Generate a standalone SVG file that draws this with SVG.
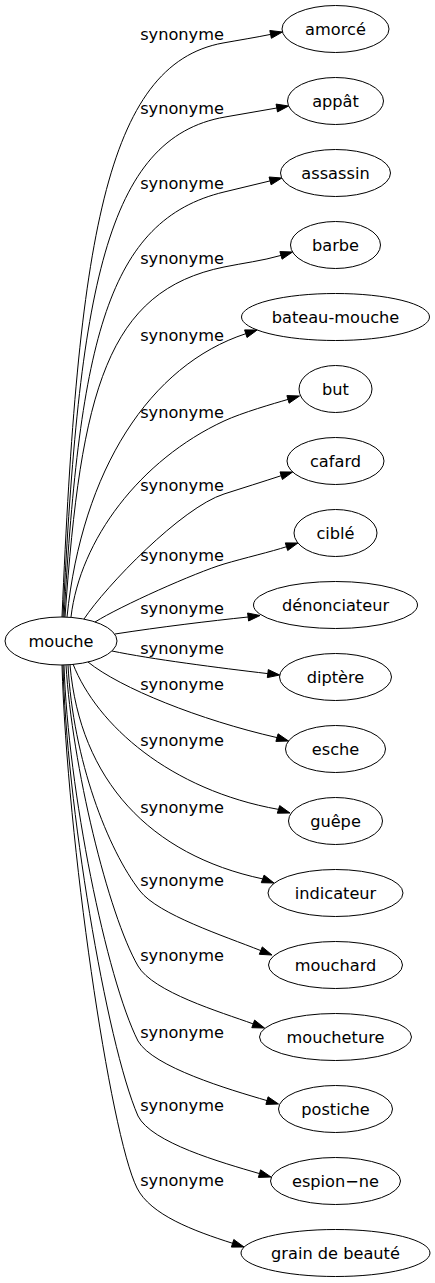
<svg xmlns="http://www.w3.org/2000/svg" width="435" height="1283" viewBox="0 0 435 1283">
<style>
.n ellipse{fill:none;stroke:#000;stroke-width:1}
text{font-family:"DejaVu Sans",sans-serif;font-size:16.2px;fill:#000;text-anchor:middle}
#edges path{fill:none;stroke:#000;stroke-width:1}
#edges polygon{fill:#000;stroke:#000;stroke-width:1}
</style>
<rect width="435" height="1283" fill="#fff"/>
<g id="edges">
<path d="M62,617 C78,244 104.9,64.4 223,43 C238.6,40.2 255.9,37.4 270.6,34.4"/>
<polygon points="282.4,32 271.4,38.3 269.8,30.5"/>
<text x="182" y="40">synonyme</text>
<path d="M63,617 C79,292 105.3,137.8 225,117 C242.2,114 259.6,111 276.8,108"/>
<polygon points="288.6,106 277.5,111.9 276.1,104.1"/>
<text x="182" y="114">synonyme</text>
<path d="M64,617 C80,341 107.4,220.1 224,192 C239.4,188.3 254.8,184.7 270.1,180.9"/>
<polygon points="281.8,178 271.1,184.8 269.1,177"/>
<text x="182" y="189">synonyme</text>
<path d="M65,617 C80.9,389.5 107.4,290.8 224,267 C243,263.1 262.4,260.8 281,255.4"/>
<polygon points="292.5,252 282.1,259.2 279.9,251.6"/>
<text x="182" y="264">synonyme</text>
<path d="M67,617 C82,470 150,365 245.8,333.7"/>
<polygon points="257.2,330 247,337.5 244.6,329.9"/>
<text x="182" y="341">synonyme</text>
<path d="M71,617 C80,540 140,460 224,421 C242.1,412.6 273.6,403.6 288,399.4"/>
<polygon points="299.5,396 289.1,403.2 286.9,395.6"/>
<text x="182" y="418">synonyme</text>
<path d="M84,619 C106,586 181.2,507.7 224,494 C242.1,488.2 263.1,481.6 281.2,475.7"/>
<polygon points="292.6,472 282.4,479.5 280,471.9"/>
<text x="182" y="491">synonyme</text>
<path d="M95,622 C120.5,606 195.3,572.6 224,564 C243.2,558.3 272.3,551.4 286.5,546.7"/>
<polygon points="297.9,543 287.7,550.5 285.3,542.9"/>
<text x="182" y="561">synonyme</text>
<path d="M115,634 C160,627 210,621 248.1,617"/>
<polygon points="260,615.5 248.6,621 247.6,613"/>
<text x="182" y="614">synonyme</text>
<path d="M112,651 C150,659 220,668 267.8,673.6"/>
<polygon points="279.7,675 267.3,677.6 268.3,669.6"/>
<text x="182" y="654">synonyme</text>
<path d="M88,662 C120,688 200,720 277,737.6"/>
<polygon points="288.5,741 275.9,741.4 278.1,733.8"/>
<text x="182" y="690">synonyme</text>
<path d="M73,664 C97,725 170,790 278.5,809.4"/>
<polygon points="290,813 277.3,813.2 279.7,805.6"/>
<text x="182" y="746">synonyme</text>
<path d="M70,665 C80,780 150,855 262.7,878.9"/>
<polygon points="274,883 261.3,882.7 264.1,875.1"/>
<text x="182" y="813">synonyme</text>
<path d="M68,665 C73,760 108,850 140,891 C158.5,914.6 223.6,935.8 260.8,950.6"/>
<polygon points="272,955 259.3,954.3 262.3,946.9"/>
<text x="182" y="886">synonyme</text>
<path d="M66,665 C72,765 108,913.8 138,966 C153,992 220.3,1012 253.2,1023.9"/>
<polygon points="264.5,1028 251.8,1027.7 254.6,1020.1"/>
<text x="182" y="961">synonyme</text>
<path d="M64,665 C68,790 106.5,978.7 138,1041 C153,1067 228.6,1089.4 267,1100.6"/>
<polygon points="278.5,1104 265.9,1104.4 268.1,1096.8"/>
<text x="182" y="1038">synonyme</text>
<path d="M63,665 C66,800 106,1042.4 138,1116 C151.5,1142.7 221.1,1162.4 259.5,1173.6"/>
<polygon points="271,1177 258.4,1177.4 260.6,1169.8"/>
<text x="182" y="1111">synonyme</text>
<path d="M62,665 C67,839 110,1134 137,1188 C150.4,1214.8 193.6,1230.9 232.6,1243.3"/>
<polygon points="244,1247 231.4,1247.1 233.8,1239.5"/>
<text x="182" y="1186">synonyme</text>
</g>
<g id="mouche" class="n"><ellipse cx="61" cy="641" rx="56" ry="24"/><text x="61" y="647">mouche</text></g>
<g id="amorce" class="n"><ellipse cx="335.5" cy="29" rx="53.5" ry="23.5"/><text x="335.5" y="35">amorcé</text></g>
<g id="appat" class="n"><ellipse cx="335.5" cy="101" rx="48" ry="23.5"/><text x="335.5" y="107">appât</text></g>
<g id="assassin" class="n"><ellipse cx="335.5" cy="173" rx="55" ry="23.5"/><text x="335.5" y="179">assassin</text></g>
<g id="barbe" class="n"><ellipse cx="335.5" cy="245" rx="45" ry="23.5"/><text x="335.5" y="251">barbe</text></g>
<g id="bateau-mouche" class="n"><ellipse cx="335.5" cy="317" rx="94" ry="23.5"/><text x="335.5" y="323">bateau-mouche</text></g>
<g id="but" class="n"><ellipse cx="335.5" cy="389" rx="36.5" ry="23.5"/><text x="335.5" y="395">but</text></g>
<g id="cafard" class="n"><ellipse cx="335.5" cy="461" rx="48.5" ry="23.5"/><text x="335.5" y="467">cafard</text></g>
<g id="cible" class="n"><ellipse cx="335.5" cy="533" rx="41.5" ry="23.5"/><text x="335.5" y="539">ciblé</text></g>
<g id="denonciateur" class="n"><ellipse cx="335.5" cy="605" rx="82" ry="23.5"/><text x="335.5" y="611">dénonciateur</text></g>
<g id="diptere" class="n"><ellipse cx="335.5" cy="677" rx="56" ry="23.5"/><text x="335.5" y="683">diptère</text></g>
<g id="esche" class="n"><ellipse cx="335.5" cy="749" rx="50" ry="23.5"/><text x="335.5" y="755">esche</text></g>
<g id="guepe" class="n"><ellipse cx="335.5" cy="821" rx="47" ry="23.5"/><text x="335.5" y="827">guêpe</text></g>
<g id="indicateur" class="n"><ellipse cx="335.5" cy="893" rx="67.5" ry="23.5"/><text x="335.5" y="899">indicateur</text></g>
<g id="mouchard" class="n"><ellipse cx="335.5" cy="965" rx="67" ry="23.5"/><text x="335.5" y="971">mouchard</text></g>
<g id="moucheture" class="n"><ellipse cx="335.5" cy="1037" rx="76" ry="23.5"/><text x="335.5" y="1043">moucheture</text></g>
<g id="postiche" class="n"><ellipse cx="335.5" cy="1109" rx="57" ry="23.5"/><text x="335.5" y="1115">postiche</text></g>
<g id="espion-ne" class="n"><ellipse cx="335.5" cy="1181" rx="65" ry="23.5"/><text x="335.5" y="1187">espion−ne</text></g>
<g id="grain-de-beaute" class="n"><ellipse cx="335.5" cy="1253" rx="94.5" ry="23.5"/><text x="335.5" y="1259">grain de beauté</text></g>
</svg>
